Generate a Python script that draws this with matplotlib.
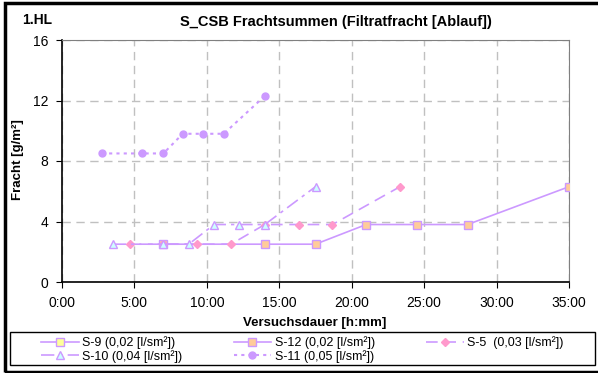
import matplotlib.pyplot as plt
from matplotlib.patches import Rectangle
from matplotlib.ticker import FuncFormatter, MultipleLocator

plt.rcParams['font.family'] = ['Liberation Sans', 'DejaVu Sans']

# Versuchsdauer in Stunden, Fracht in g/m²
s9_x, s9_y = [], []
s12_x = [7.0, 14.0, 17.5, 21.0, 24.5, 28.0, 35.0]
s12_y = [2.5, 2.5, 2.5, 3.8, 3.8, 3.8, 6.3]
s5_x = [4.667, 7.0, 9.333, 11.667, 14.0, 16.333, 18.667, 23.333]
s5_y = [2.5, 2.5, 2.5, 2.5, 3.8, 3.8, 3.8, 6.3]
s10_x = [3.5, 7.0, 8.75, 10.5, 12.25, 14.0, 17.5]
s10_y = [2.5, 2.5, 2.5, 3.8, 3.8, 3.8, 6.3]
s11_x = [2.75, 5.5, 7.0, 8.333, 9.75, 11.167, 14.0]
s11_y = [8.5, 8.5, 8.5, 9.8, 9.8, 9.8, 12.3]

labels = ["S-9 (0,02 [l/sm²])", "S-12 (0,02 [l/sm²])", "S-5  (0,03 [l/sm²])",
          "S-10 (0,04 [l/sm²])", "S-11 (0,05 [l/sm²])"]

W, H = 598, 373
fig = plt.figure(figsize=(W / 100, H / 100), dpi=100)
ax = fig.add_axes([62 / W, (H - 282) / H, (569 - 62) / W, (282 - 40) / H])

lc = '#CC99FF'
h9, = ax.plot(s9_x, s9_y, color=lc, lw=1.2, marker='s', ms=5.5,
              mfc='#FFFF99', mec=lc, mew=1)
h12, = ax.plot(s12_x, s12_y, color=lc, lw=1.2, marker='s', ms=5.5,
               mfc='#FFCC99', mec=lc, mew=1, zorder=3)
h5, = ax.plot(s5_x, s5_y, color=lc, lw=1.2, ls=(0, (7, 4)), marker='D', ms=4.5,
              mfc='#FF99CC', mec='#FF99CC', zorder=3)
h10, = ax.plot(s10_x, s10_y, color=lc, lw=1.2, ls=(0, (8, 3, 2, 3)), marker='^',
               ms=6, mfc='#CCFFFF', mec=lc, mew=1, zorder=4)
h11, = ax.plot(s11_x, s11_y, color=lc, lw=1.5, ls=(0, (1.5, 2)), marker='o',
               ms=5, mfc=lc, mec=lc, zorder=3)

ax.set_xlim(0, 35)
ax.set_ylim(0, 16)
ax.xaxis.set_major_locator(MultipleLocator(5))
ax.yaxis.set_major_locator(MultipleLocator(4))
ax.xaxis.set_major_formatter(FuncFormatter(lambda v, p: f"{int(v)}:00"))
ax.grid(True, color='#C0C0C0', ls=(0, (6, 4)), lw=1)
ax.set_axisbelow(True)
for s in ['top', 'right']:
    ax.spines[s].set_color('#808080')
for s in ['left', 'bottom']:
    ax.spines[s].set_color('black')
    ax.spines[s].set_linewidth(1.2)
ax.tick_params(direction='out', length=4, labelsize=10, colors='black', pad=6)

fig.text(22 / W, 1 - 20 / H, "1.HL", fontsize=10, fontweight='bold', va='center')
fig.text(336 / W, 1 - 22 / H, "S_CSB Frachtsummen (Filtratfracht [Ablauf])",
         fontsize=10.5, fontweight='bold', ha='center', va='center')
fig.text(18 / W, 1 - 160 / H, "Fracht [g/m²]", fontsize=9.5, fontweight='bold',
         rotation=90, ha='center', va='center')
fig.text(315 / W, 1 - 323 / H, "Versuchsdauer [h:mm]", fontsize=9.5,
         fontweight='bold', ha='center', va='center')

# column-wise filling -> rows: S-9, S-12, S-5 / S-10, S-11
order = [0, 3, 1, 4, 2]
handles = [h9, h12, h5, h10, h11]
leg = fig.legend([handles[i] for i in order], [labels[i] for i in order],
                 ncol=3, mode='expand',
                 loc='lower left', bbox_to_anchor=(40 / W, 9 / H, 525 / W, 31 / H),
                 borderaxespad=0, fontsize=9, handlelength=3, handletextpad=0.3,
                 labelspacing=0.05, borderpad=0.1, frameon=False)

fig.patches.append(Rectangle((10 / W, 8 / H), 585 / W, 33 / H, transform=fig.transFigure,
                             fill=False, lw=1, ec='black'))
fig.patches.append(Rectangle((5 / W, 1 / H), 1.2, 1 - 4 / H, transform=fig.transFigure,
                             fill=False, lw=2.5, ec='black'))

fig.savefig("out.png", dpi=100)
